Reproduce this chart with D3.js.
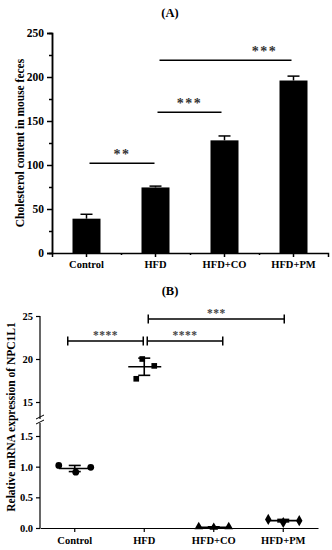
<!DOCTYPE html>
<html>
<head>
<meta charset="utf-8">
<script src="https://cdn.jsdelivr.net/npm/d3@7"></script>
<style>
	body { margin: 0; background: #fff; }
	text { font-family: "Liberation Serif", "Times New Roman", serif; font-weight: bold; }
</style>
</head>
<body>
<div id="chart"></div>
<script>

// groups shared by both panels
var groups = ["Control", "HFD", "HFD+CO", "HFD+PM"];

// panel A: cholesterol in feces
var cholMean = [39, 74.5, 128, 196];
var cholErr = [5, 1.5, 5, 5];
var cholTicks = [0, 50, 100, 150, 200, 250];
var cholMinor = [25, 75, 125, 175, 225];
var sigA = [
	{a: 0, b: 1, y: 102, label: "**"},
	{a: 1, b: 2, y: 160, label: "***"},
	{a: 1, b: 3, y: 219, label: "***"}
];

// panel B: NPC1L1 expression, three mice per group
var ctrlVals = [1.02, 0.91, 0.99];
var hfdVals = [20.0, 17.7, 19.2];
var coVals = [0.02, 0.01, 0.02];
var pmVals = [0.14, 0.09, 0.12];
var mrnaMean = [0.97, 19.1, 0.01, 0.12];
var mrnaSd = [0.05, 1.0, 0.01, 0.02];
var upperTicks = [15, 20, 25];
var lowerTicks = [0, 0.5, 1.0, 1.5];
var sigB = [
	{a: 0, b: 1, y: 22.1, label: "****"},
	{a: 1, b: 2, y: 22.1, label: "****"},
	{a: 1, b: 3, y: 24.65, label: "***"}
];

// layout only: horizontal spread of the dots and bracket nudges
var jitter = [[-16, 1, 16], [-2, -8, 10], [-15, 0, 15], [-15, 0, 16]];
var nudgeA = [[3, -1], [2, -3], [4, -2]];
var nudgeB = [[-7, -1], [3, 9], [4, 1]];

var svg = d3.select("#chart")
	.append("svg")
	.attr("width", 332)
	.attr("height", 550);

// ---------- panel A ----------
var xA = d3.scaleBand().domain(groups).range([52, 328]);
var yA = d3.scaleLinear().domain([0, 250]).range([253, 33]);

svg.append("text")
	.attr("x", 170).attr("y", 17)
	.attr("text-anchor", "middle")
	.style("font-size", "12.5px")
	.text("(A)");

var gA = svg.append("g");

gA.selectAll("rect.bar")
	.data(groups)
	.enter()
	.append("rect")
	.attr("class", "bar")
	.attr("x", function(d){ return xA(d) + xA.bandwidth() / 2 - 14; })
	.attr("width", 28)
	.attr("y", function(d, i){ return yA(cholMean[i]); })
	.attr("height", function(d, i){ return yA(0) - yA(cholMean[i]); })
	.attr("fill", "#000");

// error bars (upper only)
groups.forEach(function(g, i){
	var cx = xA(g) + xA.bandwidth() / 2;
	gA.append("line")
		.attr("x1", cx).attr("x2", cx)
		.attr("y1", yA(cholMean[i])).attr("y2", yA(cholMean[i] + cholErr[i]))
		.attr("stroke", "#000").attr("stroke-width", 1.5);
	gA.append("line")
		.attr("x1", cx - 6).attr("x2", cx + 6)
		.attr("y1", yA(cholMean[i] + cholErr[i])).attr("y2", yA(cholMean[i] + cholErr[i]))
		.attr("stroke", "#000").attr("stroke-width", 1.5);
});

// y axis A
var axA = gA.append("g")
	.attr("transform", "translate(52,0)")
	.call(d3.axisLeft(yA).tickValues(cholTicks).tickSize(5).tickPadding(3).tickFormat(d3.format("d")));
gA.append("g")
	.attr("transform", "translate(52,0)")
	.call(d3.axisLeft(yA).tickValues(cholMinor).tickSize(3).tickFormat(""));

// x axis A
gA.append("g")
	.attr("transform", "translate(0,253)")
	.call(d3.axisBottom(xA).tickSize(4).tickPadding(4))
	.selectAll("text").style("font-size", "10.5px");
gA.append("g")
	.attr("transform", "translate(0,253)")
	.call(d3.axisBottom(d3.scaleLinear().domain([0, 4]).range([52, 328])).tickValues([1, 2, 3]).tickSize(2).tickFormat(""))
	.select(".domain").remove();

axA.selectAll("text").style("font-size", "11.5px");
gA.selectAll(".domain, .tick line").attr("stroke-width", 1.5);

// significance lines A
sigA.forEach(function(s, i){
	var x1 = xA(groups[s.a]) + xA.bandwidth() / 2 + nudgeA[i][0];
	var x2 = xA(groups[s.b]) + xA.bandwidth() / 2 + nudgeA[i][1];
	gA.append("line")
		.attr("x1", x1).attr("x2", x2)
		.attr("y1", yA(s.y)).attr("y2", yA(s.y))
		.attr("stroke", "#000").attr("stroke-width", 1.5);
	gA.append("text")
		.attr("x", i == 2 ? x2 - 27 : (x1 + x2) / 2)
		.attr("y", yA(s.y) - 4)
		.attr("text-anchor", "middle")
		.attr("fill", "#333")
		.style("font-size", "14px")
		.style("letter-spacing", "1.5px")
		.text(s.label);
});

svg.append("text")
	.attr("transform", "translate(24,143) rotate(-90)")
	.attr("text-anchor", "middle")
	.style("font-size", "11.5px")
	.text("Cholesterol content in mouse feces");

// ---------- panel B ----------
var xB = d3.scaleBand().domain(groups).range([40, 318]);
var yUp = d3.scaleLinear().domain([15, 25]).range([402, 316]);
var yLow = d3.scaleLinear().domain([0, 1.5]).range([528, 436]);

function yB(v){
	return v > 5 ? yUp(v) : yLow(v);
}

svg.append("text")
	.attr("x", 170).attr("y", 295)
	.attr("text-anchor", "middle")
	.style("font-size", "12.5px")
	.text("(B)");

var gB = svg.append("g");

// y axis B, upper and lower segments
gB.append("g")
	.attr("transform", "translate(40,0)")
	.call(d3.axisLeft(yUp).tickValues(upperTicks).tickSize(4).tickPadding(3).tickSizeOuter(0))
	.call(function(g){ g.select(".domain").attr("d", "M0,316V419"); })
	.selectAll("text").style("font-size", "10.5px");
gB.append("g")
	.attr("transform", "translate(40,0)")
	.call(d3.axisLeft(yLow).tickValues(lowerTicks).tickSize(4).tickPadding(3).tickSizeOuter(0).tickFormat(d3.format(".1f")))
	.call(function(g){ g.select(".domain").attr("d", "M0,423V528"); })
	.selectAll("text").style("font-size", "10.5px");

// break marks
[417, 422].forEach(function(by){
	gB.append("line")
		.attr("x1", 36).attr("x2", 44)
		.attr("y1", by + 2).attr("y2", by - 2)
		.attr("stroke", "#000").attr("stroke-width", 1);
});

// x axis B
gB.append("g")
	.attr("transform", "translate(0,528)")
	.call(d3.axisBottom(xB).tickSize(4).tickPadding(5).tickSizeOuter(0))
	.selectAll("text").style("font-size", "10.5px");

gB.selectAll(".domain, .tick line").attr("stroke-width", 1.2);

// mean and sd lines
groups.forEach(function(g, i){
	var cx = xB(g) + xB.bandwidth() / 2;
	gB.append("line")
		.attr("x1", cx - 16).attr("x2", cx + 17)
		.attr("y1", yB(mrnaMean[i])).attr("y2", yB(mrnaMean[i]))
		.attr("stroke", "#000").attr("stroke-width", 1.6);
	var lo = yB(mrnaMean[i] - mrnaSd[i]), hi = yB(mrnaMean[i] + mrnaSd[i]);
	gB.append("line")
		.attr("x1", cx).attr("x2", cx).attr("y1", lo).attr("y2", hi)
		.attr("stroke", "#000").attr("stroke-width", 1.6);
	[lo, hi].forEach(function(yy){
		gB.append("line")
			.attr("x1", cx - 6).attr("x2", cx + 6).attr("y1", yy).attr("y2", yy)
			.attr("stroke", "#000").attr("stroke-width", 1.6);
	});
});

// dots
var pointSets = [ctrlVals, hfdVals, coVals, pmVals];
var shapes = [d3.symbolCircle, d3.symbolSquare, d3.symbolTriangle, d3.symbolDiamond];
var shapeSize = [36, 32, 32, 36];

pointSets.forEach(function(vals, i){
	var cx = xB(groups[i]) + xB.bandwidth() / 2;
	gB.selectAll("path.dot" + i)
		.data(vals)
		.enter()
		.append("path")
		.attr("class", "dot" + i)
		.attr("d", d3.symbol().type(shapes[i]).size(shapeSize[i]))
		.attr("transform", function(d, j){
			return "translate(" + (cx + jitter[i][j]) + "," + yB(d) + ")";
		})
		.attr("fill", "#000");
});

// comparison brackets B
sigB.forEach(function(s, i){
	var x1 = xB(groups[s.a]) + xB.bandwidth() / 2 + nudgeB[i][0];
	var x2 = xB(groups[s.b]) + xB.bandwidth() / 2 + nudgeB[i][1];
	var yy = yB(s.y);
	gB.append("path")
		.attr("d", "M" + x1 + "," + (yy - 4.5) + "V" + (yy + 4.5) + "M" + x1 + "," + yy + "H" + x2 +
			"M" + x2 + "," + (yy - 4.5) + "V" + (yy + 4.5))
		.attr("fill", "none")
		.attr("stroke", "#000").attr("stroke-width", 1.5);
	gB.append("text")
		.attr("x", (x1 + x2) / 2)
		.attr("y", yy - 2)
		.attr("text-anchor", "middle")
		.attr("fill", "#444")
		.style("font-size", "11.5px")
		.style("letter-spacing", "0.5px")
		.text(s.label);
});

svg.append("text")
	.attr("transform", "translate(15,417) rotate(-90)")
	.attr("text-anchor", "middle")
	.style("font-size", "11.5px")
	.text("Relative mRNA expression of NPC1L1");

</script>
</body>
</html>
